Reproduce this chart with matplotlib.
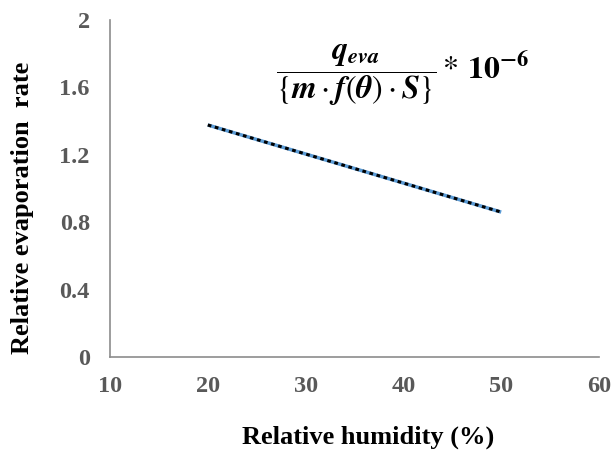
import matplotlib
matplotlib.use("Agg")
import matplotlib.pyplot as plt

# data
humidity = [20, 50]
evap_rate = [1.377, 0.86]
x_ticks = [10, 20, 30, 40, 50, 60]
y_ticks = [0, 0.4, 0.8, 1.2, 1.6, 2]
y_tick_labels = ["0", "0.4", "0.8", "1.2", "1.6", "2"]

plt.rcParams["font.family"] = ["Liberation Serif", "DejaVu Serif"]
plt.rcParams["mathtext.fontset"] = "stix"

fig = plt.figure(figsize=(6.14, 4.57), dpi=100)
ax = fig.add_axes([110 / 614, 100 / 457, 489 / 614, 337 / 457])

# blue line with black dots on top (excel style)
ax.plot(humidity, evap_rate, color="#5B9BD5", linewidth=2.5, solid_capstyle="butt")
ax.plot(humidity, evap_rate, color="black", linewidth=2.2, linestyle=(0, (1.2, 1.2)))

ax.set_xlim(10, 60)
ax.set_ylim(0, 2)
ax.set_xticks(x_ticks)
ax.set_yticks(y_ticks)
ax.set_yticklabels(y_tick_labels)

for s in ["top", "right"]:
    ax.spines[s].set_visible(False)
for s in ["left", "bottom"]:
    ax.spines[s].set_color("#8c8c8c")
    ax.spines[s].set_linewidth(1.2)

ax.tick_params(length=0, labelsize=17.5, labelcolor="#595959")
ax.tick_params(axis="y", pad=14.5)
ax.tick_params(axis="x", pad=14)
for lbl in ax.get_xticklabels() + ax.get_yticklabels():
    lbl.set_fontweight("bold")

ax.set_xlabel("Relative humidity (%)", fontsize=19, fontweight="bold")
ax.set_ylabel("Relative evaporation  rate", fontsize=19, fontweight="bold")
ax.xaxis.set_label_coords(368 / 614, 1 - 426 / 457, transform=fig.transFigure)
ax.yaxis.set_label_coords(34 / 614, 1 - 208 / 457, transform=fig.transFigure)

formula = (r"$\dfrac{\mathbfit{q_{eva}}}{\{\mathbfit{m}\cdot\mathbfit{f}(\mathbfit{\theta})\cdot\mathbfit{S}\}}"
           r"*\,\mathbf{10^{-6}}$")
fig.text(403 / 614, 1 - 75 / 457, formula, fontsize=23, ha="center", va="center")

plt.savefig("out.png", dpi=100)
